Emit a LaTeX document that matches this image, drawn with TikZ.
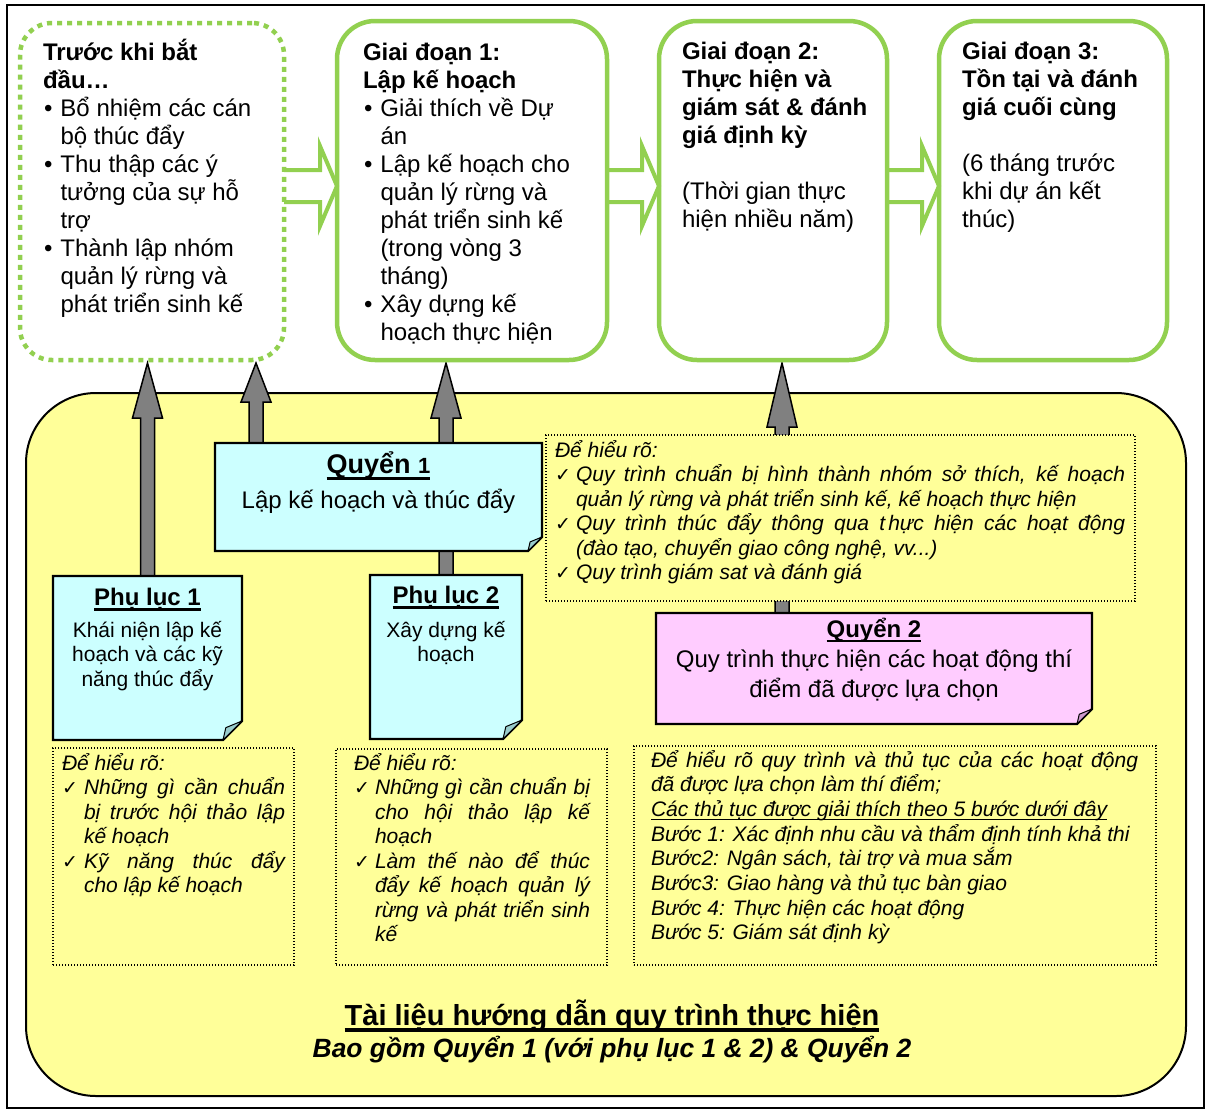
\documentclass[tikz,border=0pt]{standalone}
\usepackage{fontspec}
\setmainfont{Liberation Sans}
\newfontfamily\symf{DejaVu Sans}
\usetikzlibrary{calc}
\pgfdeclarelayer{bottom}
\pgfdeclarelayer{back}
\pgfsetlayers{bottom,back,main}

\definecolor{leaf}{HTML}{92D050}
\definecolor{paleyellow}{HTML}{FFFF99}
\definecolor{palecyan}{HTML}{CCFFFF}
\definecolor{cyanflap}{HTML}{99CCCC}
\definecolor{palepink}{HTML}{FFCCFF}
\definecolor{pinkflap}{HTML}{CC99CC}
\definecolor{arrowgray}{HTML}{808080}

% text block: width, font size, line distance, content (first baseline = node base)
\newcommand\tblock[4]{\parbox[t]{#1}{\fontsize{#2}{#3}\selectfont\lineskiplimit=-50pt\relax #4}}
% underline: depth of rule bottom, rule thickness, text
\newcommand\uln[3]{\leavevmode\setbox0\hbox{#3}\rlap{\rule[-#1]{\wd0}{#2}}\box0}
\newcommand\ck[1]{\makebox[#1][l]{\symf\upshape\mdseries\fontsize{19}{19}\selectfont ✓}}
\newcommand\bul{\makebox[17.5pt][l]{\hspace{1pt}•}}

% sticky note with a folded bottom-right corner
\newcommand\notebody[4]{%
  \filldraw[fill=#3,draw=black,line width=2.2pt,line join=miter]
    (#1.north west) -- (#1.north east) -- ($(#1.south east)+(0,-#2)$)
    -- ($(#1.south east)+(-#2,0)$) -- (#1.south west) -- cycle;
  \filldraw[fill=#4,draw=black,line width=1pt,line join=round]
    ($(#1.south east)+(0,-#2)$) -- ($(#1.south east)+(-0.85*#2,-0.65*#2)$)
    -- ($(#1.south east)+(-#2,0)$) -- cycle;}

% grey block arrow pointing up: foot point, target node, head length
\newcommand\raisearrow[3]{%
  \draw[blockup] let \p1=(#1), \p2=(#2.south) in
    (\x1-7pt,\y1-6pt) -- (\x1-7pt,\y2-3pt-#3pt) -- (\x1-15pt,\y2-3pt-#3pt)
    -- (\x1,\y2-3pt) -- (\x1+15pt,\y2-3pt-#3pt) -- (\x1+7pt,\y2-3pt-#3pt)
    -- (\x1+7pt,\y1-6pt) -- cycle;}

\begin{document}
\begin{tikzpicture}[x=1pt,y=-1pt,
  stage/.style={draw=leaf,line width=4.5pt,rounded corners=38pt,anchor=north west,inner sep=0pt,outer sep=0pt},
  dotstage/.style={stage,rounded corners=32pt,dash pattern=on 5pt off 5pt},
  hollowarrow/.style={draw=leaf,line width=4pt,fill=white,line join=miter,miter limit=20},
  blockup/.style={fill=arrowgray,draw=black,line width=1.5pt,line join=miter,miter limit=20},
  dotbox/.style={draw=black,fill=paleyellow,line width=1.4pt,dash pattern=on 1.4pt off 1.6pt,anchor=north west,inner sep=0pt,outer sep=0pt},
  placeholder/.style={anchor=north west,inner sep=0pt,outer sep=0pt},
  txt/.style={inner sep=0pt,outer sep=0pt}]

\useasboundingbox (0,0) rectangle (1207,1111);

\begin{pgfonlayer}{bottom}
  \fill[white] (0,0) rectangle (1207,1111);
  \node[placeholder,draw=black,fill=paleyellow,line width=2pt,rounded corners=70pt,
        minimum width=1160pt,minimum height=703pt] (Y) at (26,393) {};
\end{pgfonlayer}

\node[placeholder,draw=black,line width=2pt,minimum width=1197pt,minimum height=1103pt] (frame) at (7,5) {};

% project stages
\node[dotstage,minimum width=264pt,minimum height=337pt] (g0) at (20,23) {};
\node[stage,minimum width=270pt,minimum height=339pt] (g1) at (337,21) {};
\node[stage,minimum width=228pt,minimum height=339pt] (g2) at (659,21) {};
\node[stage,minimum width=228pt,minimum height=339pt] (g3) at (939,21) {};

% manuals and annexes
\node[placeholder,minimum width=327pt,minimum height=108pt] (q1) at (215,443) {};
\node[placeholder,minimum width=189pt,minimum height=164pt] (p1) at (53,576) {};
\node[placeholder,minimum width=152pt,minimum height=164pt] (p2) at (370,575) {};
\node[placeholder,minimum width=436pt,minimum height=111pt] (q2) at (656,613) {};

\begin{pgfonlayer}{back}
  \foreach \a/\b in {g0/g1,g1/g2,g2/g3}
    \draw[hollowarrow] let \p1=(\a.east), \p2=(\b.west), \p3=($(\b.north)+(0,165)$) in
      (\x1,\y3+16pt) -- (\x2-17pt,\y3+16pt) -- (\x2-17pt,\y3+40pt) -- (\x2,\y3)
      -- (\x2-17pt,\y3-40pt) -- (\x2-17pt,\y3-16pt) -- (\x1,\y3-16pt);
  \raisearrow{p1.north}{g0}{55}
  \raisearrow{$(q1.north west)+(41,0)$}{g0}{39}
  \raisearrow{p2.north}{g1}{55}
  \raisearrow{$(q2.north west)+(126,0)$}{g2}{64}
\end{pgfonlayer}

% explanation boxes
\node[dotbox,minimum width=589pt,minimum height=166pt] (d0) at (546,435) {};
\node[dotbox,minimum width=241pt,minimum height=217pt] (d1) at (53,748) {};
\node[dotbox,minimum width=271pt,minimum height=216pt] (d2) at (336,749) {};
\node[dotbox,minimum width=522pt,minimum height=219pt] (d3) at (634,746) {};

\notebody{q1}{14}{palecyan}{cyanflap}
\notebody{p1}{19}{palecyan}{cyanflap}
\notebody{p2}{19}{palecyan}{cyanflap}
\notebody{q2}{15}{palepink}{pinkflap}

% stage texts
\node[txt,anchor=base west] (g0t) at ($(g0.north west)+(23,37)$) {\tblock{250pt}{24}{28}{\raggedright
  \textbf{Trước khi bắt}\\
  \textbf{đầu…}\\
  \bul Bổ nhiệm các cán\\
  \hspace*{17.5pt}bộ thúc đẩy\\
  \bul Thu thập các ý\\
  \hspace*{17.5pt}tưởng của sự hỗ\\
  \hspace*{17.5pt}trợ\\
  \bul Thành lập nhóm\\
  \hspace*{17.5pt}quản lý rừng và\\
  \hspace*{17.5pt}phát triển sinh kế}};

\node[txt,anchor=base west] (g1t) at ($(g1.north west)+(26,39)$) {\tblock{250pt}{24}{28}{\raggedright
  \textbf{Giai đoạn 1:}\\
  \textbf{Lập kế hoạch}\\
  \bul Giải thích về Dự\\
  \hspace*{17.5pt}án\\
  \bul Lập kế hoạch cho\\
  \hspace*{17.5pt}quản lý rừng và\\
  \hspace*{17.5pt}phát triển sinh kế\\
  \hspace*{17.5pt}(trong vòng 3\\
  \hspace*{17.5pt}tháng)\\
  \bul Xây dựng kế\\
  \hspace*{17.5pt}hoạch thực hiện}};

\node[txt,anchor=base west] (g2t) at ($(g2.north west)+(23,38)$) {\tblock{210pt}{24}{28}{\raggedright
  \textbf{Giai đoạn 2:}\\
  \textbf{Thực hiện và}\\
  \textbf{giám sát \& đánh}\\
  \textbf{giá định kỳ}\\[28pt]
  (Thời gian thực\\
  hiện nhiều năm)}};

\node[txt,anchor=base west] (g3t) at ($(g3.north west)+(23,38)$) {\tblock{210pt}{24}{28}{\raggedright
  \textbf{Giai đoạn 3:}\\
  \textbf{Tồn tại và đánh}\\
  \textbf{giá cuối cùng}\\[28pt]
  (6 tháng trước\\
  khi dự án kết\\
  thúc)}};

% note texts
\node[txt,anchor=base] (q1t) at ($(q1.north)+(0,30)$) {\tblock{320pt}{24}{35}{\centering
  \uln{6.5pt}{3pt}{{\fontsize{27}{30}\selectfont\bfseries Quyển }{\fontsize{22}{30}\selectfont\bfseries 1}}\\
  Lập kế hoạch và thúc đẩy}};

\node[txt,anchor=base] (p1t) at ($(p1.north)+(0,29)$) {\tblock{185pt}{21}{24.5}{\centering
  \uln{5.5pt}{2.5pt}{\fontsize{24}{24.5}\selectfont\bfseries Phụ lục 1}\\[7.5pt]
  Khái niện lập kế\\
  hoạch và các kỹ\\
  năng thúc đẩy}};

\node[txt,anchor=base] (p2t) at ($(p2.north)+(0,28)$) {\tblock{150pt}{21}{24.5}{\centering
  \uln{5.5pt}{2.5pt}{\fontsize{24}{24.5}\selectfont\bfseries Phụ lục 2}\\[9.5pt]
  Xây dựng kế\\
  hoạch}};

\node[txt,anchor=base] (q2t) at ($(q2.north)+(0,24)$) {\tblock{430pt}{24}{30}{\centering
  \uln{5pt}{2.5pt}{\bfseries Quyển 2}\\
  Quy trình thực hiện các hoạt động thí\\
  điểm đã được lựa chọn}};

% explanation texts
\node[txt,anchor=base west] (d0t) at ($(d0.north west)+(9,22)$) {\tblock{580pt}{21}{24.5}{\raggedright\itshape
  Để hiểu rõ:\\
  \ck{21pt}\makebox[549pt][s]{Quy trình chuẩn bị hình thành nhóm sở thích, kế hoạch}\\
  \hspace*{21pt}quản lý rừng và phát triển sinh kế, kế hoạch thực hiện\\
  \ck{21pt}\makebox[549pt][s]{Quy trình thúc đẩy thông qua t\hspace{3pt}hực hiện các hoạt động}\\
  \hspace*{21pt}(đào tạo, chuyển giao công nghệ, vv...)\\
  \ck{21pt}Quy trình giám sat và đánh giá}};

\node[txt,anchor=base west] (d1t) at ($(d1.north west)+(9,22)$) {\tblock{230pt}{21}{24.5}{\raggedright\itshape
  Để hiểu rõ:\\
  \ck{22pt}\makebox[201pt][s]{Những gì cần chuẩn}\\
  \hspace*{22pt}\makebox[201pt][s]{bị trước hội thảo lập}\\
  \hspace*{22pt}kế hoạch\\
  \ck{22pt}\makebox[201pt][s]{Kỹ năng thúc đẩy}\\
  \hspace*{22pt}cho lập kế hoạch}};

\node[txt,anchor=base west] (d2t) at ($(d2.north west)+(18,21)$) {\tblock{245pt}{21}{24.5}{\raggedright\itshape
  Để hiểu rõ:\\
  \ck{21pt}\makebox[215pt][s]{Những gì cần chuẩn bị}\\
  \hspace*{21pt}\makebox[215pt][s]{cho hội thảo lập kế}\\
  \hspace*{21pt}hoạch\\
  \ck{21pt}\makebox[215pt][s]{Làm thế nào để thúc}\\
  \hspace*{21pt}\makebox[215pt][s]{đẩy kế hoạch quản lý}\\
  \hspace*{21pt}\makebox[215pt][s]{rừng và phát triển sinh}\\
  \hspace*{21pt}kế}};

\node[txt,anchor=base west] (d3t) at ($(d3.north west)+(17,21)$) {\tblock{500pt}{21}{24.7}{\raggedright\itshape
  \makebox[487pt][s]{Để hiểu rõ quy trình và thủ tục của các hoạt động}\\
  đã được lựa chọn làm thí điểm;\\
  \uln{3.5pt}{1.2pt}{Các thủ tục được giải thích theo 5 bước dưới đây}\\
  Bước 1: Xác định nhu cầu và thẩm định tính khả thi\\
  Bước2: Ngân sách, tài trợ và mua sắm\\
  Bước3: Giao hàng và thủ tục bàn giao\\
  Bước 4: Thực hiện các hoạt động\\
  Bước 5: Giám sát định kỳ}};

% caption of the yellow panel
\node[txt,anchor=base] (yt) at ($(Y.north west)+(586,632)$) {\tblock{720pt}{26.4}{32}{\centering\bfseries
  \uln{7pt}{4pt}{\fontsize{29}{32}\selectfont Tài liệu hướng dẫn quy trình thực hiện}\\
  \itshape Bao gồm Quyển 1 (với phụ lục 1 \& 2) \& Quyển 2}};

\end{tikzpicture}
\end{document}
